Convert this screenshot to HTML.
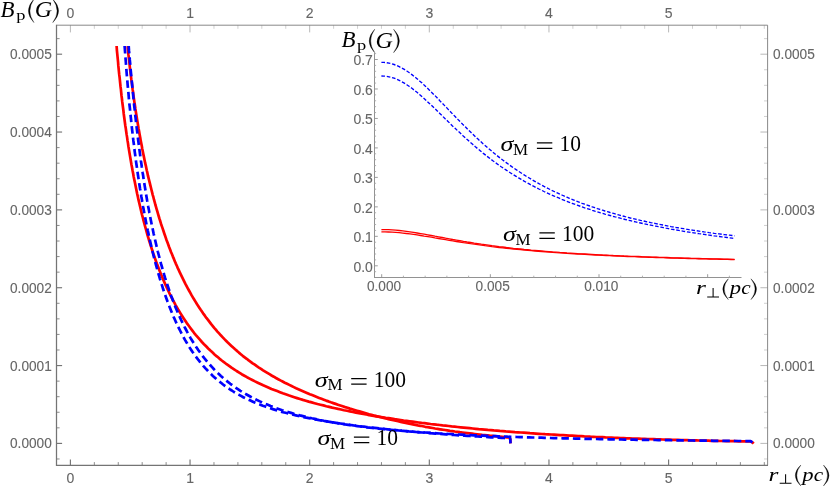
<!DOCTYPE html>
<html><head><meta charset="utf-8"><title>Bp plot</title>
<style>html,body{margin:0;padding:0;background:#fff;}svg{display:block;}.gt{filter:grayscale(1);}text{white-space:pre;}</style>
</head><body>
<svg width="830" height="487" viewBox="0 0 830 487">
<rect width="830" height="487" fill="#fff"/>
<g><line x1="70.40" y1="465.20" x2="70.40" y2="459.60" stroke="#757575" stroke-width="1.15"/><line x1="70.40" y1="25.20" x2="70.40" y2="32.40" stroke="#a6a6a6" stroke-width="0.8"/><line x1="94.33" y1="465.20" x2="94.33" y2="462.10" stroke="#8c8c8c" stroke-width="1.0"/><line x1="94.33" y1="25.20" x2="94.33" y2="28.80" stroke="#c4c4c4" stroke-width="0.8"/><line x1="118.26" y1="465.20" x2="118.26" y2="462.10" stroke="#8c8c8c" stroke-width="1.0"/><line x1="118.26" y1="25.20" x2="118.26" y2="28.80" stroke="#c4c4c4" stroke-width="0.8"/><line x1="142.18" y1="465.20" x2="142.18" y2="462.10" stroke="#8c8c8c" stroke-width="1.0"/><line x1="142.18" y1="25.20" x2="142.18" y2="28.80" stroke="#c4c4c4" stroke-width="0.8"/><line x1="166.11" y1="465.20" x2="166.11" y2="462.10" stroke="#8c8c8c" stroke-width="1.0"/><line x1="166.11" y1="25.20" x2="166.11" y2="28.80" stroke="#c4c4c4" stroke-width="0.8"/><line x1="190.04" y1="465.20" x2="190.04" y2="459.60" stroke="#757575" stroke-width="1.15"/><line x1="190.04" y1="25.20" x2="190.04" y2="32.40" stroke="#a6a6a6" stroke-width="0.8"/><line x1="213.97" y1="465.20" x2="213.97" y2="462.10" stroke="#8c8c8c" stroke-width="1.0"/><line x1="213.97" y1="25.20" x2="213.97" y2="28.80" stroke="#c4c4c4" stroke-width="0.8"/><line x1="237.90" y1="465.20" x2="237.90" y2="462.10" stroke="#8c8c8c" stroke-width="1.0"/><line x1="237.90" y1="25.20" x2="237.90" y2="28.80" stroke="#c4c4c4" stroke-width="0.8"/><line x1="261.82" y1="465.20" x2="261.82" y2="462.10" stroke="#8c8c8c" stroke-width="1.0"/><line x1="261.82" y1="25.20" x2="261.82" y2="28.80" stroke="#c4c4c4" stroke-width="0.8"/><line x1="285.75" y1="465.20" x2="285.75" y2="462.10" stroke="#8c8c8c" stroke-width="1.0"/><line x1="285.75" y1="25.20" x2="285.75" y2="28.80" stroke="#c4c4c4" stroke-width="0.8"/><line x1="309.68" y1="465.20" x2="309.68" y2="459.60" stroke="#757575" stroke-width="1.15"/><line x1="309.68" y1="25.20" x2="309.68" y2="32.40" stroke="#a6a6a6" stroke-width="0.8"/><line x1="333.61" y1="465.20" x2="333.61" y2="462.10" stroke="#8c8c8c" stroke-width="1.0"/><line x1="333.61" y1="25.20" x2="333.61" y2="28.80" stroke="#c4c4c4" stroke-width="0.8"/><line x1="357.54" y1="465.20" x2="357.54" y2="462.10" stroke="#8c8c8c" stroke-width="1.0"/><line x1="357.54" y1="25.20" x2="357.54" y2="28.80" stroke="#c4c4c4" stroke-width="0.8"/><line x1="381.46" y1="465.20" x2="381.46" y2="462.10" stroke="#8c8c8c" stroke-width="1.0"/><line x1="381.46" y1="25.20" x2="381.46" y2="28.80" stroke="#c4c4c4" stroke-width="0.8"/><line x1="405.39" y1="465.20" x2="405.39" y2="462.10" stroke="#8c8c8c" stroke-width="1.0"/><line x1="405.39" y1="25.20" x2="405.39" y2="28.80" stroke="#c4c4c4" stroke-width="0.8"/><line x1="429.32" y1="465.20" x2="429.32" y2="459.60" stroke="#757575" stroke-width="1.15"/><line x1="429.32" y1="25.20" x2="429.32" y2="32.40" stroke="#a6a6a6" stroke-width="0.8"/><line x1="453.25" y1="465.20" x2="453.25" y2="462.10" stroke="#8c8c8c" stroke-width="1.0"/><line x1="453.25" y1="25.20" x2="453.25" y2="28.80" stroke="#c4c4c4" stroke-width="0.8"/><line x1="477.18" y1="465.20" x2="477.18" y2="462.10" stroke="#8c8c8c" stroke-width="1.0"/><line x1="477.18" y1="25.20" x2="477.18" y2="28.80" stroke="#c4c4c4" stroke-width="0.8"/><line x1="501.10" y1="465.20" x2="501.10" y2="462.10" stroke="#8c8c8c" stroke-width="1.0"/><line x1="501.10" y1="25.20" x2="501.10" y2="28.80" stroke="#c4c4c4" stroke-width="0.8"/><line x1="525.03" y1="465.20" x2="525.03" y2="462.10" stroke="#8c8c8c" stroke-width="1.0"/><line x1="525.03" y1="25.20" x2="525.03" y2="28.80" stroke="#c4c4c4" stroke-width="0.8"/><line x1="548.96" y1="465.20" x2="548.96" y2="459.60" stroke="#757575" stroke-width="1.15"/><line x1="548.96" y1="25.20" x2="548.96" y2="32.40" stroke="#a6a6a6" stroke-width="0.8"/><line x1="572.89" y1="465.20" x2="572.89" y2="462.10" stroke="#8c8c8c" stroke-width="1.0"/><line x1="572.89" y1="25.20" x2="572.89" y2="28.80" stroke="#c4c4c4" stroke-width="0.8"/><line x1="596.82" y1="465.20" x2="596.82" y2="462.10" stroke="#8c8c8c" stroke-width="1.0"/><line x1="596.82" y1="25.20" x2="596.82" y2="28.80" stroke="#c4c4c4" stroke-width="0.8"/><line x1="620.74" y1="465.20" x2="620.74" y2="462.10" stroke="#8c8c8c" stroke-width="1.0"/><line x1="620.74" y1="25.20" x2="620.74" y2="28.80" stroke="#c4c4c4" stroke-width="0.8"/><line x1="644.67" y1="465.20" x2="644.67" y2="462.10" stroke="#8c8c8c" stroke-width="1.0"/><line x1="644.67" y1="25.20" x2="644.67" y2="28.80" stroke="#c4c4c4" stroke-width="0.8"/><line x1="668.60" y1="465.20" x2="668.60" y2="459.60" stroke="#757575" stroke-width="1.15"/><line x1="668.60" y1="25.20" x2="668.60" y2="32.40" stroke="#a6a6a6" stroke-width="0.8"/><line x1="692.53" y1="465.20" x2="692.53" y2="462.10" stroke="#8c8c8c" stroke-width="1.0"/><line x1="692.53" y1="25.20" x2="692.53" y2="28.80" stroke="#c4c4c4" stroke-width="0.8"/><line x1="716.46" y1="465.20" x2="716.46" y2="462.10" stroke="#8c8c8c" stroke-width="1.0"/><line x1="716.46" y1="25.20" x2="716.46" y2="28.80" stroke="#c4c4c4" stroke-width="0.8"/><line x1="740.38" y1="465.20" x2="740.38" y2="462.10" stroke="#8c8c8c" stroke-width="1.0"/><line x1="740.38" y1="25.20" x2="740.38" y2="28.80" stroke="#c4c4c4" stroke-width="0.8"/><line x1="764.31" y1="465.20" x2="764.31" y2="462.10" stroke="#8c8c8c" stroke-width="1.0"/><line x1="764.31" y1="25.20" x2="764.31" y2="28.80" stroke="#c4c4c4" stroke-width="0.8"/><line x1="56.50" y1="458.97" x2="59.60" y2="458.97" stroke="#8c8c8c" stroke-width="1.0"/><line x1="767.60" y1="458.97" x2="764.00" y2="458.97" stroke="#c4c4c4" stroke-width="0.8"/><line x1="56.50" y1="443.40" x2="62.10" y2="443.40" stroke="#757575" stroke-width="1.15"/><line x1="767.60" y1="443.40" x2="760.40" y2="443.40" stroke="#a6a6a6" stroke-width="0.8"/><line x1="56.50" y1="427.83" x2="59.60" y2="427.83" stroke="#8c8c8c" stroke-width="1.0"/><line x1="767.60" y1="427.83" x2="764.00" y2="427.83" stroke="#c4c4c4" stroke-width="0.8"/><line x1="56.50" y1="412.26" x2="59.60" y2="412.26" stroke="#8c8c8c" stroke-width="1.0"/><line x1="767.60" y1="412.26" x2="764.00" y2="412.26" stroke="#c4c4c4" stroke-width="0.8"/><line x1="56.50" y1="396.70" x2="59.60" y2="396.70" stroke="#8c8c8c" stroke-width="1.0"/><line x1="767.60" y1="396.70" x2="764.00" y2="396.70" stroke="#c4c4c4" stroke-width="0.8"/><line x1="56.50" y1="381.13" x2="59.60" y2="381.13" stroke="#8c8c8c" stroke-width="1.0"/><line x1="767.60" y1="381.13" x2="764.00" y2="381.13" stroke="#c4c4c4" stroke-width="0.8"/><line x1="56.50" y1="365.56" x2="62.10" y2="365.56" stroke="#757575" stroke-width="1.15"/><line x1="767.60" y1="365.56" x2="760.40" y2="365.56" stroke="#a6a6a6" stroke-width="0.8"/><line x1="56.50" y1="349.99" x2="59.60" y2="349.99" stroke="#8c8c8c" stroke-width="1.0"/><line x1="767.60" y1="349.99" x2="764.00" y2="349.99" stroke="#c4c4c4" stroke-width="0.8"/><line x1="56.50" y1="334.42" x2="59.60" y2="334.42" stroke="#8c8c8c" stroke-width="1.0"/><line x1="767.60" y1="334.42" x2="764.00" y2="334.42" stroke="#c4c4c4" stroke-width="0.8"/><line x1="56.50" y1="318.86" x2="59.60" y2="318.86" stroke="#8c8c8c" stroke-width="1.0"/><line x1="767.60" y1="318.86" x2="764.00" y2="318.86" stroke="#c4c4c4" stroke-width="0.8"/><line x1="56.50" y1="303.29" x2="59.60" y2="303.29" stroke="#8c8c8c" stroke-width="1.0"/><line x1="767.60" y1="303.29" x2="764.00" y2="303.29" stroke="#c4c4c4" stroke-width="0.8"/><line x1="56.50" y1="287.72" x2="62.10" y2="287.72" stroke="#757575" stroke-width="1.15"/><line x1="767.60" y1="287.72" x2="760.40" y2="287.72" stroke="#a6a6a6" stroke-width="0.8"/><line x1="56.50" y1="272.15" x2="59.60" y2="272.15" stroke="#8c8c8c" stroke-width="1.0"/><line x1="767.60" y1="272.15" x2="764.00" y2="272.15" stroke="#c4c4c4" stroke-width="0.8"/><line x1="56.50" y1="256.58" x2="59.60" y2="256.58" stroke="#8c8c8c" stroke-width="1.0"/><line x1="767.60" y1="256.58" x2="764.00" y2="256.58" stroke="#c4c4c4" stroke-width="0.8"/><line x1="56.50" y1="241.02" x2="59.60" y2="241.02" stroke="#8c8c8c" stroke-width="1.0"/><line x1="767.60" y1="241.02" x2="764.00" y2="241.02" stroke="#c4c4c4" stroke-width="0.8"/><line x1="56.50" y1="225.45" x2="59.60" y2="225.45" stroke="#8c8c8c" stroke-width="1.0"/><line x1="767.60" y1="225.45" x2="764.00" y2="225.45" stroke="#c4c4c4" stroke-width="0.8"/><line x1="56.50" y1="209.88" x2="62.10" y2="209.88" stroke="#757575" stroke-width="1.15"/><line x1="767.60" y1="209.88" x2="760.40" y2="209.88" stroke="#a6a6a6" stroke-width="0.8"/><line x1="56.50" y1="194.31" x2="59.60" y2="194.31" stroke="#8c8c8c" stroke-width="1.0"/><line x1="767.60" y1="194.31" x2="764.00" y2="194.31" stroke="#c4c4c4" stroke-width="0.8"/><line x1="56.50" y1="178.74" x2="59.60" y2="178.74" stroke="#8c8c8c" stroke-width="1.0"/><line x1="767.60" y1="178.74" x2="764.00" y2="178.74" stroke="#c4c4c4" stroke-width="0.8"/><line x1="56.50" y1="163.18" x2="59.60" y2="163.18" stroke="#8c8c8c" stroke-width="1.0"/><line x1="767.60" y1="163.18" x2="764.00" y2="163.18" stroke="#c4c4c4" stroke-width="0.8"/><line x1="56.50" y1="147.61" x2="59.60" y2="147.61" stroke="#8c8c8c" stroke-width="1.0"/><line x1="767.60" y1="147.61" x2="764.00" y2="147.61" stroke="#c4c4c4" stroke-width="0.8"/><line x1="56.50" y1="132.04" x2="62.10" y2="132.04" stroke="#757575" stroke-width="1.15"/><line x1="767.60" y1="132.04" x2="760.40" y2="132.04" stroke="#a6a6a6" stroke-width="0.8"/><line x1="56.50" y1="116.47" x2="59.60" y2="116.47" stroke="#8c8c8c" stroke-width="1.0"/><line x1="767.60" y1="116.47" x2="764.00" y2="116.47" stroke="#c4c4c4" stroke-width="0.8"/><line x1="56.50" y1="100.90" x2="59.60" y2="100.90" stroke="#8c8c8c" stroke-width="1.0"/><line x1="767.60" y1="100.90" x2="764.00" y2="100.90" stroke="#c4c4c4" stroke-width="0.8"/><line x1="56.50" y1="85.34" x2="59.60" y2="85.34" stroke="#8c8c8c" stroke-width="1.0"/><line x1="767.60" y1="85.34" x2="764.00" y2="85.34" stroke="#c4c4c4" stroke-width="0.8"/><line x1="56.50" y1="69.77" x2="59.60" y2="69.77" stroke="#8c8c8c" stroke-width="1.0"/><line x1="767.60" y1="69.77" x2="764.00" y2="69.77" stroke="#c4c4c4" stroke-width="0.8"/><line x1="56.50" y1="54.20" x2="62.10" y2="54.20" stroke="#757575" stroke-width="1.15"/><line x1="767.60" y1="54.20" x2="760.40" y2="54.20" stroke="#a6a6a6" stroke-width="0.8"/><line x1="56.50" y1="38.63" x2="59.60" y2="38.63" stroke="#8c8c8c" stroke-width="1.0"/><line x1="767.60" y1="38.63" x2="764.00" y2="38.63" stroke="#c4c4c4" stroke-width="0.8"/></g>
<path d="M56.5,25.2 H767.6 V465.2" fill="none" stroke="#7c7c7c" stroke-width="0.9"/>
<path d="M56.5,24.8 V465.34999999999997 H768.0" fill="none" stroke="#747474" stroke-width="1.25"/>
<g class="gt" font-family="'Liberation Sans', sans-serif">
<text x="70.40" y="483.30" text-anchor="middle" font-size="14" textLength="7.8" lengthAdjust="spacingAndGlyphs" fill="#666666" stroke="#666666" stroke-width="0.12">0</text>
<text x="70.40" y="17.70" text-anchor="middle" font-size="14" textLength="7.8" lengthAdjust="spacingAndGlyphs" fill="#666666" stroke="#666666" stroke-width="0.12">0</text>
<text x="190.04" y="483.30" text-anchor="middle" font-size="14" textLength="7.8" lengthAdjust="spacingAndGlyphs" fill="#666666" stroke="#666666" stroke-width="0.12">1</text>
<text x="190.04" y="17.70" text-anchor="middle" font-size="14" textLength="7.8" lengthAdjust="spacingAndGlyphs" fill="#666666" stroke="#666666" stroke-width="0.12">1</text>
<text x="309.68" y="483.30" text-anchor="middle" font-size="14" textLength="7.8" lengthAdjust="spacingAndGlyphs" fill="#666666" stroke="#666666" stroke-width="0.12">2</text>
<text x="309.68" y="17.70" text-anchor="middle" font-size="14" textLength="7.8" lengthAdjust="spacingAndGlyphs" fill="#666666" stroke="#666666" stroke-width="0.12">2</text>
<text x="429.32" y="483.30" text-anchor="middle" font-size="14" textLength="7.8" lengthAdjust="spacingAndGlyphs" fill="#666666" stroke="#666666" stroke-width="0.12">3</text>
<text x="429.32" y="17.70" text-anchor="middle" font-size="14" textLength="7.8" lengthAdjust="spacingAndGlyphs" fill="#666666" stroke="#666666" stroke-width="0.12">3</text>
<text x="548.96" y="483.30" text-anchor="middle" font-size="14" textLength="7.8" lengthAdjust="spacingAndGlyphs" fill="#666666" stroke="#666666" stroke-width="0.12">4</text>
<text x="548.96" y="17.70" text-anchor="middle" font-size="14" textLength="7.8" lengthAdjust="spacingAndGlyphs" fill="#666666" stroke="#666666" stroke-width="0.12">4</text>
<text x="668.60" y="483.30" text-anchor="middle" font-size="14" textLength="7.8" lengthAdjust="spacingAndGlyphs" fill="#666666" stroke="#666666" stroke-width="0.12">5</text>
<text x="668.60" y="17.70" text-anchor="middle" font-size="14" textLength="7.8" lengthAdjust="spacingAndGlyphs" fill="#666666" stroke="#666666" stroke-width="0.12">5</text>
<text x="51.80" y="448.40" text-anchor="end" font-size="14" textLength="41.8" lengthAdjust="spacingAndGlyphs" fill="#666666" stroke="#666666" stroke-width="0.12">0.0000</text>
<text x="773.00" y="448.40" text-anchor="start" font-size="14" textLength="41.8" lengthAdjust="spacingAndGlyphs" fill="#666666" stroke="#666666" stroke-width="0.12">0.0000</text>
<text x="51.80" y="370.56" text-anchor="end" font-size="14" textLength="41.8" lengthAdjust="spacingAndGlyphs" fill="#666666" stroke="#666666" stroke-width="0.12">0.0001</text>
<text x="773.00" y="370.56" text-anchor="start" font-size="14" textLength="41.8" lengthAdjust="spacingAndGlyphs" fill="#666666" stroke="#666666" stroke-width="0.12">0.0001</text>
<text x="51.80" y="292.72" text-anchor="end" font-size="14" textLength="41.8" lengthAdjust="spacingAndGlyphs" fill="#666666" stroke="#666666" stroke-width="0.12">0.0002</text>
<text x="773.00" y="292.72" text-anchor="start" font-size="14" textLength="41.8" lengthAdjust="spacingAndGlyphs" fill="#666666" stroke="#666666" stroke-width="0.12">0.0002</text>
<text x="51.80" y="214.88" text-anchor="end" font-size="14" textLength="41.8" lengthAdjust="spacingAndGlyphs" fill="#666666" stroke="#666666" stroke-width="0.12">0.0003</text>
<text x="773.00" y="214.88" text-anchor="start" font-size="14" textLength="41.8" lengthAdjust="spacingAndGlyphs" fill="#666666" stroke="#666666" stroke-width="0.12">0.0003</text>
<text x="51.80" y="137.04" text-anchor="end" font-size="14" textLength="41.8" lengthAdjust="spacingAndGlyphs" fill="#666666" stroke="#666666" stroke-width="0.12">0.0004</text>
<text x="51.80" y="59.20" text-anchor="end" font-size="14" textLength="41.8" lengthAdjust="spacingAndGlyphs" fill="#666666" stroke="#666666" stroke-width="0.12">0.0005</text>
<text x="773.00" y="59.20" text-anchor="start" font-size="14" textLength="41.8" lengthAdjust="spacingAndGlyphs" fill="#666666" stroke="#666666" stroke-width="0.12">0.0005</text>
<text x="372.80" y="271.70" text-anchor="end" font-size="14" textLength="19.4" lengthAdjust="spacingAndGlyphs" fill="#666666" stroke="#666666" stroke-width="0.12">0.0</text>
<text x="372.80" y="242.23" text-anchor="end" font-size="14" textLength="19.4" lengthAdjust="spacingAndGlyphs" fill="#666666" stroke="#666666" stroke-width="0.12">0.1</text>
<text x="372.80" y="212.76" text-anchor="end" font-size="14" textLength="19.4" lengthAdjust="spacingAndGlyphs" fill="#666666" stroke="#666666" stroke-width="0.12">0.2</text>
<text x="372.80" y="183.29" text-anchor="end" font-size="14" textLength="19.4" lengthAdjust="spacingAndGlyphs" fill="#666666" stroke="#666666" stroke-width="0.12">0.3</text>
<text x="372.80" y="153.82" text-anchor="end" font-size="14" textLength="19.4" lengthAdjust="spacingAndGlyphs" fill="#666666" stroke="#666666" stroke-width="0.12">0.4</text>
<text x="372.80" y="124.35" text-anchor="end" font-size="14" textLength="19.4" lengthAdjust="spacingAndGlyphs" fill="#666666" stroke="#666666" stroke-width="0.12">0.5</text>
<text x="372.80" y="94.88" text-anchor="end" font-size="14" textLength="19.4" lengthAdjust="spacingAndGlyphs" fill="#666666" stroke="#666666" stroke-width="0.12">0.6</text>
<text x="372.80" y="65.41" text-anchor="end" font-size="14" textLength="19.4" lengthAdjust="spacingAndGlyphs" fill="#666666" stroke="#666666" stroke-width="0.12">0.7</text>
<text x="384.00" y="291.40" text-anchor="middle" font-size="14" textLength="34.2" lengthAdjust="spacingAndGlyphs" fill="#666666" stroke="#666666" stroke-width="0.12">0.000</text>
<text x="492.65" y="291.40" text-anchor="middle" font-size="14" textLength="34.2" lengthAdjust="spacingAndGlyphs" fill="#666666" stroke="#666666" stroke-width="0.12">0.005</text>
<text x="601.30" y="291.40" text-anchor="middle" font-size="14" textLength="34.2" lengthAdjust="spacingAndGlyphs" fill="#666666" stroke="#666666" stroke-width="0.12">0.010</text>
</g>
<g><line x1="374.50" y1="53.00" x2="374.50" y2="278.00" stroke="#929292" stroke-width="1"/><line x1="374.00" y1="277.50" x2="741.50" y2="277.50" stroke="#929292" stroke-width="1"/><line x1="374.50" y1="271.69" x2="376.10" y2="271.69" stroke="#a8a8a8" stroke-width="0.9"/><line x1="374.50" y1="265.80" x2="377.80" y2="265.80" stroke="#929292" stroke-width="0.9"/><line x1="374.50" y1="259.91" x2="376.10" y2="259.91" stroke="#a8a8a8" stroke-width="0.9"/><line x1="374.50" y1="254.01" x2="376.10" y2="254.01" stroke="#a8a8a8" stroke-width="0.9"/><line x1="374.50" y1="248.12" x2="376.10" y2="248.12" stroke="#a8a8a8" stroke-width="0.9"/><line x1="374.50" y1="242.22" x2="376.10" y2="242.22" stroke="#a8a8a8" stroke-width="0.9"/><line x1="374.50" y1="236.33" x2="377.80" y2="236.33" stroke="#929292" stroke-width="0.9"/><line x1="374.50" y1="230.44" x2="376.10" y2="230.44" stroke="#a8a8a8" stroke-width="0.9"/><line x1="374.50" y1="224.54" x2="376.10" y2="224.54" stroke="#a8a8a8" stroke-width="0.9"/><line x1="374.50" y1="218.65" x2="376.10" y2="218.65" stroke="#a8a8a8" stroke-width="0.9"/><line x1="374.50" y1="212.75" x2="376.10" y2="212.75" stroke="#a8a8a8" stroke-width="0.9"/><line x1="374.50" y1="206.86" x2="377.80" y2="206.86" stroke="#929292" stroke-width="0.9"/><line x1="374.50" y1="200.97" x2="376.10" y2="200.97" stroke="#a8a8a8" stroke-width="0.9"/><line x1="374.50" y1="195.07" x2="376.10" y2="195.07" stroke="#a8a8a8" stroke-width="0.9"/><line x1="374.50" y1="189.18" x2="376.10" y2="189.18" stroke="#a8a8a8" stroke-width="0.9"/><line x1="374.50" y1="183.28" x2="376.10" y2="183.28" stroke="#a8a8a8" stroke-width="0.9"/><line x1="374.50" y1="177.39" x2="377.80" y2="177.39" stroke="#929292" stroke-width="0.9"/><line x1="374.50" y1="171.50" x2="376.10" y2="171.50" stroke="#a8a8a8" stroke-width="0.9"/><line x1="374.50" y1="165.60" x2="376.10" y2="165.60" stroke="#a8a8a8" stroke-width="0.9"/><line x1="374.50" y1="159.71" x2="376.10" y2="159.71" stroke="#a8a8a8" stroke-width="0.9"/><line x1="374.50" y1="153.81" x2="376.10" y2="153.81" stroke="#a8a8a8" stroke-width="0.9"/><line x1="374.50" y1="147.92" x2="377.80" y2="147.92" stroke="#929292" stroke-width="0.9"/><line x1="374.50" y1="142.03" x2="376.10" y2="142.03" stroke="#a8a8a8" stroke-width="0.9"/><line x1="374.50" y1="136.13" x2="376.10" y2="136.13" stroke="#a8a8a8" stroke-width="0.9"/><line x1="374.50" y1="130.24" x2="376.10" y2="130.24" stroke="#a8a8a8" stroke-width="0.9"/><line x1="374.50" y1="124.34" x2="376.10" y2="124.34" stroke="#a8a8a8" stroke-width="0.9"/><line x1="374.50" y1="118.45" x2="377.80" y2="118.45" stroke="#929292" stroke-width="0.9"/><line x1="374.50" y1="112.56" x2="376.10" y2="112.56" stroke="#a8a8a8" stroke-width="0.9"/><line x1="374.50" y1="106.66" x2="376.10" y2="106.66" stroke="#a8a8a8" stroke-width="0.9"/><line x1="374.50" y1="100.77" x2="376.10" y2="100.77" stroke="#a8a8a8" stroke-width="0.9"/><line x1="374.50" y1="94.87" x2="376.10" y2="94.87" stroke="#a8a8a8" stroke-width="0.9"/><line x1="374.50" y1="88.98" x2="377.80" y2="88.98" stroke="#929292" stroke-width="0.9"/><line x1="374.50" y1="83.09" x2="376.10" y2="83.09" stroke="#a8a8a8" stroke-width="0.9"/><line x1="374.50" y1="77.19" x2="376.10" y2="77.19" stroke="#a8a8a8" stroke-width="0.9"/><line x1="374.50" y1="71.30" x2="376.10" y2="71.30" stroke="#a8a8a8" stroke-width="0.9"/><line x1="374.50" y1="65.40" x2="376.10" y2="65.40" stroke="#a8a8a8" stroke-width="0.9"/><line x1="374.50" y1="59.51" x2="377.80" y2="59.51" stroke="#929292" stroke-width="0.9"/><line x1="374.50" y1="53.62" x2="376.10" y2="53.62" stroke="#a8a8a8" stroke-width="0.9"/><line x1="381.70" y1="277.50" x2="381.70" y2="274.20" stroke="#929292" stroke-width="0.9"/><line x1="403.43" y1="277.50" x2="403.43" y2="275.70" stroke="#a8a8a8" stroke-width="0.9"/><line x1="425.16" y1="277.50" x2="425.16" y2="275.70" stroke="#a8a8a8" stroke-width="0.9"/><line x1="446.89" y1="277.50" x2="446.89" y2="275.70" stroke="#a8a8a8" stroke-width="0.9"/><line x1="468.62" y1="277.50" x2="468.62" y2="275.70" stroke="#a8a8a8" stroke-width="0.9"/><line x1="490.35" y1="277.50" x2="490.35" y2="274.20" stroke="#929292" stroke-width="0.9"/><line x1="512.08" y1="277.50" x2="512.08" y2="275.70" stroke="#a8a8a8" stroke-width="0.9"/><line x1="533.81" y1="277.50" x2="533.81" y2="275.70" stroke="#a8a8a8" stroke-width="0.9"/><line x1="555.54" y1="277.50" x2="555.54" y2="275.70" stroke="#a8a8a8" stroke-width="0.9"/><line x1="577.27" y1="277.50" x2="577.27" y2="275.70" stroke="#a8a8a8" stroke-width="0.9"/><line x1="599.00" y1="277.50" x2="599.00" y2="274.20" stroke="#929292" stroke-width="0.9"/><line x1="620.73" y1="277.50" x2="620.73" y2="275.70" stroke="#a8a8a8" stroke-width="0.9"/><line x1="642.46" y1="277.50" x2="642.46" y2="275.70" stroke="#a8a8a8" stroke-width="0.9"/><line x1="664.19" y1="277.50" x2="664.19" y2="275.70" stroke="#a8a8a8" stroke-width="0.9"/><line x1="685.92" y1="277.50" x2="685.92" y2="275.70" stroke="#a8a8a8" stroke-width="0.9"/><line x1="707.65" y1="277.50" x2="707.65" y2="274.20" stroke="#929292" stroke-width="0.9"/><line x1="729.38" y1="277.50" x2="729.38" y2="275.70" stroke="#a8a8a8" stroke-width="0.9"/></g>
<defs><clipPath id="pc"><rect x="57" y="46" width="710" height="419"/></clipPath></defs>
<g fill="none" stroke-linejoin="round" clip-path="url(#pc)">
<path d="M116.6,46.0 L116.7,47.3 L116.9,50.3 L117.2,53.3 L117.5,56.3 L117.8,59.4 L118.1,62.4 L118.3,65.4 L118.6,68.4 L118.9,71.4 L119.2,74.4 L119.6,77.4 L119.9,80.4 L120.2,83.4 L120.5,86.4 L120.9,89.4 L121.2,92.5 L121.5,95.5 L121.9,98.5 L122.2,101.5 L122.6,104.5 L123.0,107.5 L123.4,110.5 L123.7,113.5 L124.1,116.5 L124.5,119.5 L124.9,122.5 L125.3,125.5 L125.8,128.5 L126.2,131.5 L126.6,134.4 L127.1,137.4 L127.5,140.4 L128.0,143.4 L128.4,146.4 L128.9,149.4 L129.4,152.4 L129.9,155.4 L130.4,158.3 L130.9,161.3 L131.4,164.3 L132.0,167.3 L132.5,170.3 L133.1,173.2 L133.6,176.2 L134.2,179.2 L134.8,182.1 L135.4,185.1 L136.0,188.1 L136.6,191.0 L137.2,194.0 L137.9,196.9 L138.5,199.9 L139.2,202.8 L139.9,205.8 L140.6,208.7 L141.3,211.7 L142.0,214.6 L142.8,217.5 L143.5,220.5 L144.3,223.4 L145.1,226.3 L145.9,229.2 L146.7,232.2 L147.5,235.1 L148.4,238.0 L149.2,240.9 L150.1,243.7 L151.0,246.6 L152.0,249.5 L152.9,252.4 L153.9,255.2 L154.9,258.1 L155.9,261.0 L156.9,263.8 L158.0,266.6 L159.1,269.5 L160.2,272.3 L161.3,275.1 L162.5,277.9 L163.7,280.7 L164.9,283.4 L166.1,286.2 L167.4,288.9 L168.7,291.7 L170.0,294.4 L171.4,297.1 L172.8,299.8 L174.2,302.4 L175.6,305.1 L177.1,307.7 L178.6,310.3 L180.2,312.9 L181.8,315.5 L183.4,318.0 L185.1,320.6 L186.8,323.1 L188.6,325.5 L190.4,328.0 L192.2,330.4 L194.0,332.8 L195.9,335.1 L197.9,337.4 L199.9,339.7 L201.9,342.0 L204.0,344.2 L206.1,346.3 L208.2,348.5 L210.4,350.6 L212.6,352.6 L214.8,354.7 L217.1,356.6 L219.4,358.6 L221.8,360.5 L224.2,362.3 L226.6,364.2 L229.1,365.9 L231.5,367.7 L234.1,369.3 L236.6,371.0 L239.2,372.6 L241.7,374.2 L244.4,375.7 L247.0,377.2 L249.6,378.6 L252.3,380.0 L255.0,381.4 L257.7,382.7 L260.5,384.0 L263.2,385.3 L266.0,386.5 L268.8,387.7 L271.5,388.9 L274.3,390.0 L277.2,391.1 L280.0,392.2 L282.8,393.3 L285.7,394.3 L288.5,395.3 L291.4,396.2 L294.3,397.2 L297.1,398.1 L300.0,399.0 L302.9,399.9 L305.8,400.7 L308.7,401.6 L311.7,402.4 L314.6,403.2 L317.5,404.0 L320.4,404.7 L323.4,405.4 L326.3,406.2 L329.2,406.9 L332.2,407.6 L335.1,408.2 L338.1,408.9 L341.0,409.5 L344.0,410.2 L347.0,410.8 L349.9,411.4 L352.9,412.0 L355.9,412.6 L358.8,413.1 L361.8,413.7 L364.8,414.2 L367.8,414.8 L370.7,415.3 L373.7,415.8 L376.7,416.3 L379.7,416.8 L382.7,417.3 L385.7,417.8 L388.6,418.2 L391.6,418.7 L394.6,419.2 L397.6,419.6 L400.6,420.0 L403.6,420.5 L406.6,420.9 L409.6,421.3 L412.6,421.7 L415.6,422.1 L418.6,422.5 L421.6,422.9 L424.6,423.2 L427.6,423.6 L430.6,424.0 L433.6,424.3 L436.6,424.7 L439.6,425.0 L442.6,425.4 L445.6,425.7 L448.6,426.0 L451.6,426.4 L454.6,426.7 L457.6,427.0 L460.7,427.3 L463.7,427.6 L466.7,427.9 L469.7,428.2 L472.7,428.5 L475.7,428.8 L478.7,429.1 L481.7,429.3 L484.7,429.6 L487.8,429.9 L490.8,430.1 L493.8,430.4 L496.8,430.6 L499.8,430.9 L502.8,431.1 L505.8,431.4 L508.9,431.6 L511.9,431.8 L514.9,432.1 L517.9,432.3 L520.9,432.5 L523.9,432.7 L527.0,432.9 L530.0,433.2 L533.0,433.4 L536.0,433.6 L539.0,433.8 L542.0,434.0 L545.1,434.2 L548.1,434.3 L551.1,434.5 L554.1,434.7 L557.1,434.9 L560.2,435.1 L563.2,435.2 L566.2,435.4 L569.2,435.6 L572.2,435.7 L575.3,435.9 L578.3,436.1 L581.3,436.2 L584.3,436.4 L587.3,436.5 L590.4,436.7 L593.4,436.8 L596.4,437.0 L599.4,437.1 L602.5,437.2 L605.5,437.4 L608.5,437.5 L611.5,437.6 L614.5,437.8 L617.6,437.9 L620.6,438.0 L623.6,438.1 L626.6,438.3 L629.7,438.4 L632.7,438.5 L635.7,438.6 L638.7,438.7 L641.7,438.8 L644.8,438.9 L647.8,439.0 L650.8,439.1 L653.8,439.2 L656.9,439.3 L659.9,439.4 L662.9,439.5 L665.9,439.6 L669.0,439.7 L672.0,439.8 L675.0,439.9 L678.0,439.9 L681.0,440.0 L684.1,440.1 L687.1,440.2 L690.1,440.3 L693.1,440.3 L696.2,440.4 L699.2,440.5 L702.2,440.6 L705.2,440.6 L708.3,440.7 L711.3,440.8 L714.3,440.8 L717.3,440.9 L720.4,441.0 L723.4,441.0 L726.4,441.1 L729.4,441.1 L732.5,441.2 L735.5,441.2 L738.5,441.3 L741.5,441.4 L744.6,441.4 L747.6,441.5 L750.6,441.5 L752.6,442.4 L753.6,443.6" stroke="#ff0000" stroke-width="2.7"/>
<path d="M127.6,46.0 L127.7,46.9 L127.9,49.4 L128.2,51.9 L128.4,54.4 L128.7,56.9 L129.0,59.4 L129.3,61.8 L129.6,64.3 L129.8,66.8 L130.1,69.3 L130.4,71.8 L130.7,74.3 L131.0,76.8 L131.3,79.2 L131.7,81.7 L132.0,84.2 L132.3,86.7 L132.6,89.2 L133.0,91.6 L133.3,94.1 L133.6,96.6 L134.0,99.1 L134.3,101.6 L134.7,104.0 L135.1,106.5 L135.4,109.0 L135.8,111.5 L136.2,113.9 L136.6,116.4 L137.0,118.9 L137.4,121.4 L137.8,123.8 L138.2,126.3 L138.6,128.8 L139.1,131.2 L139.5,133.7 L139.9,136.1 L140.4,138.6 L140.8,141.1 L141.3,143.5 L141.8,146.0 L142.2,148.4 L142.7,150.9 L143.2,153.4 L143.7,155.8 L144.2,158.3 L144.7,160.7 L145.2,163.2 L145.8,165.6 L146.3,168.1 L146.8,170.5 L147.4,172.9 L147.9,175.4 L148.5,177.8 L149.1,180.3 L149.7,182.7 L150.3,185.1 L150.9,187.5 L151.5,190.0 L152.1,192.4 L152.7,194.8 L153.4,197.2 L154.0,199.7 L154.7,202.1 L155.3,204.5 L156.0,206.9 L156.7,209.3 L157.4,211.7 L158.1,214.1 L158.8,216.5 L159.5,218.9 L160.3,221.3 L161.0,223.7 L161.8,226.1 L162.6,228.4 L163.4,230.8 L164.2,233.2 L165.0,235.5 L165.8,237.9 L166.6,240.3 L167.5,242.6 L168.4,245.0 L169.2,247.3 L170.1,249.6 L171.0,252.0 L172.0,254.3 L172.9,256.6 L173.9,258.9 L174.8,261.2 L175.8,263.6 L176.8,265.8 L177.8,268.1 L178.9,270.4 L179.9,272.7 L181.0,274.9 L182.1,277.2 L183.2,279.4 L184.3,281.7 L185.4,283.9 L186.6,286.1 L187.8,288.3 L189.0,290.5 L190.2,292.7 L191.4,294.9 L192.7,297.1 L194.0,299.2 L195.3,301.4 L196.6,303.5 L197.9,305.6 L199.3,307.7 L200.7,309.8 L202.1,311.8 L203.5,313.9 L205.0,315.9 L206.4,317.9 L208.0,319.9 L209.5,321.9 L211.0,323.9 L212.6,325.8 L214.2,327.8 L215.8,329.7 L217.4,331.6 L219.1,333.4 L220.8,335.3 L222.5,337.1 L224.2,338.9 L226.0,340.7 L227.8,342.5 L229.6,344.2 L231.4,345.9 L233.2,347.6 L235.1,349.3 L237.0,350.9 L238.9,352.6 L240.8,354.2 L242.7,355.8 L244.7,357.3 L246.7,358.8 L248.7,360.4 L250.7,361.8 L252.7,363.3 L254.8,364.7 L256.8,366.2 L258.9,367.6 L261.0,368.9 L263.1,370.3 L265.2,371.6 L267.3,372.9 L269.5,374.2 L271.6,375.5 L273.8,376.7 L276.0,378.0 L278.2,379.2 L280.4,380.4 L282.6,381.5 L284.8,382.7 L287.1,383.8 L289.3,384.9 L291.6,386.0 L293.8,387.1 L296.1,388.2 L298.4,389.2 L300.6,390.2 L302.9,391.2 L305.2,392.2 L307.5,393.2 L309.8,394.2 L312.1,395.1 L314.5,396.1 L316.8,397.0 L319.1,397.9 L321.5,398.8 L323.8,399.7 L326.1,400.6 L328.5,401.4 L330.9,402.3 L333.2,403.1 L335.6,403.9 L337.9,404.7 L340.3,405.5 L342.7,406.3 L345.1,407.1 L347.5,407.8 L349.9,408.6 L352.2,409.3 L354.6,410.0 L357.0,410.7 L359.4,411.4 L361.8,412.1 L364.3,412.8 L366.7,413.5 L369.1,414.2 L371.5,414.8 L373.9,415.5 L376.3,416.1 L378.8,416.7 L381.2,417.3 L383.6,417.9 L386.0,418.5 L388.5,419.1 L390.9,419.7 L393.4,420.2 L395.8,420.8 L398.2,421.3 L400.7,421.9 L403.1,422.4 L405.6,422.9 L408.0,423.4 L410.5,423.9 L412.9,424.4 L415.4,424.9 L417.8,425.4 L420.3,425.8 L422.8,426.3 L425.2,426.8 L427.7,427.2 L430.2,427.6 L432.6,428.0 L435.1,428.5 L437.6,428.9 L440.0,429.3 L442.5,429.7 L445.0,430.0 L447.4,430.4 L449.9,430.8 L452.4,431.1 L454.9,431.5 L457.4,431.8 L459.8,432.2 L462.3,432.5 L464.8,432.8 L467.3,433.1 L469.8,433.4 L472.2,433.7 L474.7,434.0 L477.2,434.3 L479.7,434.6 L482.2,434.9 L484.7,435.1 L487.2,435.4 L489.7,435.7 L492.2,435.9 L494.6,436.1 L497.1,436.4 L499.6,436.6 L502.1,436.8 L504.6,437.1 L507.1,437.3 L509.6,437.5 L510.3,439.5 L510.5,443.4" stroke="#ff0000" stroke-width="2.7"/>
<path d="M124.6,46.0 L124.8,48.5 L125.0,51.1 L125.2,53.8 L125.4,56.4 L125.6,59.1 L125.8,61.7 L126.0,64.4 L126.2,67.0 L126.4,69.7 L126.6,72.3 L126.8,75.0 L127.1,77.6 L127.3,80.3 L127.5,82.9 L127.7,85.5 L128.0,88.2 L128.2,90.8 L128.5,93.5 L128.7,96.1 L128.9,98.8 L129.2,101.4 L129.4,104.1 L129.7,106.7 L130.0,109.3 L130.2,112.0 L130.5,114.6 L130.8,117.3 L131.1,119.9 L131.3,122.6 L131.6,125.2 L131.9,127.8 L132.2,130.5 L132.5,133.1 L132.8,135.8 L133.1,138.4 L133.4,141.0 L133.8,143.7 L134.1,146.3 L134.4,148.9 L134.7,151.6 L135.1,154.2 L135.4,156.9 L135.8,159.5 L136.1,162.1 L136.5,164.7 L136.9,167.4 L137.2,170.0 L137.6,172.6 L138.0,175.3 L138.4,177.9 L138.8,180.5 L139.2,183.1 L139.6,185.8 L140.0,188.4 L140.5,191.0 L140.9,193.6 L141.3,196.3 L141.8,198.9 L142.2,201.5 L142.7,204.1 L143.1,206.7 L143.6,209.3 L144.1,212.0 L144.6,214.6 L145.1,217.2 L145.6,219.8 L146.1,222.4 L146.6,225.0 L147.2,227.6 L147.7,230.2 L148.3,232.8 L148.8,235.4 L149.4,238.0 L150.0,240.6 L150.6,243.2 L151.2,245.8 L151.8,248.3 L152.4,250.9 L153.0,253.5 L153.7,256.1 L154.3,258.7 L155.0,261.2 L155.7,263.8 L156.4,266.4 L157.1,268.9 L157.8,271.5 L158.5,274.0 L159.3,276.6 L160.0,279.1 L160.8,281.7 L161.6,284.2 L162.4,286.7 L163.2,289.3 L164.1,291.8 L164.9,294.3 L165.8,296.8 L166.7,299.3 L167.6,301.8 L168.6,304.3 L169.5,306.8 L170.5,309.2 L171.5,311.7 L172.5,314.2 L173.5,316.6 L174.6,319.0 L175.7,321.5 L176.8,323.9 L177.9,326.3 L179.1,328.7 L180.3,331.0 L181.5,333.4 L182.7,335.7 L184.0,338.1 L185.3,340.4 L186.7,342.7 L188.0,345.0 L189.4,347.2 L190.9,349.4 L192.4,351.7 L193.9,353.8 L195.4,356.0 L197.0,358.1 L198.6,360.2 L200.3,362.3 L202.0,364.4 L203.7,366.4 L205.5,368.4 L207.3,370.3 L209.1,372.2 L211.0,374.1 L212.9,375.9 L214.9,377.7 L216.9,379.5 L218.9,381.2 L221.0,382.8 L223.1,384.5 L225.2,386.1 L227.4,387.6 L229.6,389.1 L231.8,390.5 L234.0,392.0 L236.3,393.3 L238.6,394.6 L241.0,395.9 L243.3,397.2 L245.7,398.4 L248.1,399.5 L250.5,400.6 L252.9,401.7 L255.3,402.8 L257.8,403.8 L260.3,404.7 L262.8,405.7 L265.3,406.6 L267.8,407.5 L270.3,408.3 L272.8,409.1 L275.3,409.9 L277.9,410.7 L280.4,411.4 L283.0,412.2 L285.6,412.8 L288.1,413.5 L290.7,414.2 L293.3,414.8 L295.9,415.4 L298.5,416.0 L301.1,416.6 L303.6,417.1 L306.3,417.7 L308.9,418.2 L311.5,418.7 L314.1,419.2 L316.7,419.7 L319.3,420.2 L321.9,420.6 L324.5,421.1 L327.2,421.5 L329.8,421.9 L332.4,422.3 L335.0,422.8 L337.7,423.2 L340.3,423.5 L342.9,423.9 L345.5,424.3 L348.2,424.6 L350.8,425.0 L353.4,425.4 L356.1,425.7 L358.7,426.0 L361.3,426.4 L364.0,426.7 L366.6,427.0 L369.3,427.3 L371.9,427.6 L374.5,427.9 L377.2,428.2 L379.8,428.5 L382.5,428.8 L385.1,429.0 L387.7,429.3 L390.4,429.6 L393.0,429.8 L395.7,430.1 L398.3,430.4 L401.0,430.6 L403.6,430.9 L406.3,431.1 L408.9,431.4 L411.5,431.6 L414.2,431.8 L416.8,432.1 L419.5,432.3 L422.1,432.5 L424.8,432.7 L427.4,432.9 L430.1,433.2 L432.7,433.4 L435.4,433.6 L438.0,433.8 L440.7,434.0 L443.3,434.2 L446.0,434.4 L448.6,434.6 L451.3,434.8 L453.9,435.0 L456.6,435.1 L459.2,435.3 L461.9,435.5 L464.5,435.7 L467.2,435.8 L469.8,436.0 L472.5,436.2 L475.1,436.4 L477.8,436.5 L480.4,436.7 L483.1,436.8 L485.7,437.0 L488.4,437.1 L491.0,437.3 L493.7,437.4 L496.3,437.6 L499.0,437.7 L501.6,437.9 L504.3,438.0 L506.9,438.1 L509.6,438.3 L510.3,439.0 L510.5,443.4" stroke="#0000ff" stroke-width="2.7" stroke-dasharray="7.5 4"/>
<path d="M128.7,46.0 L128.8,47.7 L129.0,50.7 L129.3,53.8 L129.6,56.8 L129.8,59.9 L130.1,63.0 L130.4,66.0 L130.6,69.1 L130.9,72.2 L131.2,75.2 L131.5,78.3 L131.8,81.4 L132.1,84.4 L132.4,87.5 L132.7,90.5 L133.0,93.6 L133.3,96.7 L133.6,99.7 L133.9,102.8 L134.2,105.8 L134.6,108.9 L134.9,112.0 L135.2,115.0 L135.6,118.1 L135.9,121.1 L136.3,124.2 L136.6,127.2 L137.0,130.3 L137.4,133.4 L137.7,136.4 L138.1,139.5 L138.5,142.5 L138.9,145.6 L139.3,148.6 L139.7,151.7 L140.1,154.7 L140.5,157.8 L140.9,160.8 L141.4,163.9 L141.8,166.9 L142.3,169.9 L142.7,173.0 L143.2,176.0 L143.6,179.1 L144.1,182.1 L144.6,185.1 L145.1,188.2 L145.6,191.2 L146.1,194.3 L146.6,197.3 L147.1,200.3 L147.7,203.3 L148.2,206.4 L148.8,209.4 L149.3,212.4 L149.9,215.4 L150.5,218.5 L151.1,221.5 L151.7,224.5 L152.4,227.5 L153.0,230.5 L153.6,233.5 L154.3,236.5 L155.0,239.5 L155.7,242.5 L156.4,245.5 L157.1,248.5 L157.8,251.5 L158.6,254.5 L159.4,257.5 L160.1,260.4 L160.9,263.4 L161.8,266.4 L162.6,269.3 L163.5,272.3 L164.3,275.2 L165.2,278.2 L166.2,281.1 L167.1,284.0 L168.1,287.0 L169.1,289.9 L170.1,292.8 L171.1,295.7 L172.2,298.6 L173.3,301.4 L174.4,304.3 L175.5,307.2 L176.7,310.0 L177.9,312.8 L179.1,315.6 L180.4,318.4 L181.7,321.2 L183.1,324.0 L184.4,326.7 L185.9,329.5 L187.3,332.2 L188.8,334.9 L190.3,337.6 L191.9,340.2 L193.5,342.8 L195.2,345.4 L196.9,348.0 L198.6,350.5 L200.4,353.0 L202.2,355.5 L204.1,357.9 L206.1,360.3 L208.0,362.7 L210.1,365.0 L212.1,367.2 L214.2,369.5 L216.4,371.7 L218.6,373.8 L220.9,375.9 L223.2,377.9 L225.5,379.9 L227.9,381.9 L230.3,383.8 L232.8,385.6 L235.3,387.4 L237.9,389.1 L240.4,390.8 L243.0,392.4 L245.7,394.0 L248.4,395.5 L251.1,397.0 L253.8,398.4 L256.5,399.8 L259.3,401.1 L262.1,402.4 L264.9,403.6 L267.8,404.8 L270.6,406.0 L273.5,407.1 L276.4,408.2 L279.3,409.2 L282.2,410.2 L285.1,411.1 L288.0,412.0 L291.0,412.9 L293.9,413.8 L296.9,414.6 L299.9,415.4 L302.9,416.1 L305.9,416.9 L308.8,417.6 L311.8,418.3 L314.8,418.9 L317.9,419.6 L320.9,420.2 L323.9,420.8 L326.9,421.3 L329.9,421.9 L333.0,422.4 L336.0,422.9 L339.0,423.4 L342.1,423.9 L345.1,424.4 L348.2,424.8 L351.2,425.3 L354.3,425.7 L357.3,426.1 L360.4,426.5 L363.4,426.9 L366.5,427.3 L369.5,427.6 L372.6,428.0 L375.6,428.3 L378.7,428.6 L381.7,428.9 L384.8,429.2 L387.9,429.5 L390.9,429.8 L394.0,430.1 L397.1,430.4 L400.1,430.7 L403.2,430.9 L406.3,431.2 L409.3,431.4 L412.4,431.6 L415.5,431.9 L418.5,432.1 L421.6,432.3 L424.7,432.5 L427.7,432.7 L430.8,432.9 L433.9,433.1 L436.9,433.3 L440.0,433.5 L443.1,433.7 L446.2,433.9 L449.2,434.0 L452.3,434.2 L455.4,434.4 L458.4,434.5 L461.5,434.7 L464.6,434.9 L467.7,435.0 L470.7,435.1 L473.8,435.3 L476.9,435.4 L480.0,435.6 L483.0,435.7 L486.1,435.8 L489.2,436.0 L492.2,436.1 L495.3,436.2 L498.4,436.3 L501.5,436.4 L504.5,436.5 L507.6,436.7 L510.7,436.8 L513.8,436.9 L516.8,437.0 L519.9,437.1 L523.0,437.2 L526.1,437.3 L529.1,437.4 L532.2,437.5 L535.3,437.5 L538.4,437.6 L541.4,437.7 L544.5,437.8 L547.6,437.9 L550.7,438.0 L553.7,438.1 L556.8,438.1 L559.9,438.2 L563.0,438.3 L566.0,438.4 L569.1,438.4 L572.2,438.5 L575.3,438.6 L578.3,438.7 L581.4,438.7 L584.5,438.8 L587.6,438.9 L590.6,438.9 L593.7,439.0 L596.8,439.0 L599.9,439.1 L603.0,439.2 L606.0,439.2 L609.1,439.3 L612.2,439.3 L615.3,439.4 L618.3,439.4 L621.4,439.5 L624.5,439.6 L627.6,439.6 L630.6,439.7 L633.7,439.7 L636.8,439.8 L639.9,439.8 L642.9,439.9 L646.0,439.9 L649.1,439.9 L652.2,440.0 L655.2,440.0 L658.3,440.1 L661.4,440.1 L664.5,440.2 L667.5,440.2 L670.6,440.2 L673.7,440.3 L676.8,440.3 L679.8,440.4 L682.9,440.4 L686.0,440.4 L689.1,440.5 L692.2,440.5 L695.2,440.6 L698.3,440.6 L701.4,440.6 L704.5,440.7 L707.5,440.7 L710.6,440.7 L713.7,440.8 L716.8,440.8 L719.8,440.8 L722.9,440.9 L726.0,440.9 L729.1,440.9 L732.1,440.9 L735.2,441.0 L738.3,441.0 L741.4,441.0 L744.4,441.1 L747.5,441.1 L750.6,441.1 L752.6,442.4 L753.6,443.6" stroke="#0000ff" stroke-width="2.7" stroke-dasharray="7.5 4"/>
</g><g fill="none" stroke-linejoin="round">
<path d="M381.4,229.6 L385.0,229.6 L388.5,229.7 L392.1,229.9 L395.7,230.2 L399.2,230.5 L402.8,230.9 L406.4,231.3 L409.9,231.8 L413.5,232.4 L417.1,233.0 L420.6,233.6 L424.2,234.2 L427.8,234.8 L431.3,235.5 L434.9,236.2 L438.5,236.8 L442.1,237.5 L445.6,238.2 L449.2,238.8 L452.8,239.5 L456.3,240.1 L459.9,240.7 L463.5,241.4 L467.0,242.0 L470.6,242.5 L474.2,243.1 L477.7,243.6 L481.3,244.2 L484.9,244.7 L488.4,245.2 L492.0,245.7 L495.6,246.1 L499.1,246.6 L502.7,247.0 L506.3,247.5 L509.8,247.9 L513.4,248.3 L517.0,248.6 L520.5,249.0 L524.1,249.4 L527.7,249.7 L531.2,250.1 L534.8,250.4 L538.4,250.7 L541.9,251.0 L545.5,251.3 L549.1,251.6 L552.6,251.9 L556.2,252.1 L559.8,252.4 L563.4,252.6 L566.9,252.9 L570.5,253.1 L574.1,253.3 L577.6,253.6 L581.2,253.8 L584.8,254.0 L588.3,254.2 L591.9,254.4 L595.5,254.6 L599.0,254.8 L602.6,255.0 L606.2,255.1 L609.7,255.3 L613.3,255.5 L616.9,255.6 L620.4,255.8 L624.0,256.0 L627.6,256.1 L631.1,256.3 L634.7,256.4 L638.3,256.5 L641.8,256.7 L645.4,256.8 L649.0,256.9 L652.5,257.1 L656.1,257.2 L659.7,257.3 L663.2,257.4 L666.8,257.5 L670.4,257.7 L673.9,257.8 L677.5,257.9 L681.1,258.0 L684.7,258.1 L688.2,258.2 L691.8,258.3 L695.4,258.4 L698.9,258.5 L702.5,258.6 L706.1,258.7 L709.6,258.8 L713.2,258.8 L716.8,258.9 L720.3,259.0 L723.9,259.1 L727.5,259.2 L731.0,259.3 L734.6,259.3" stroke="#ff0000" stroke-width="1.3"/>
<path d="M381.4,231.9 L385.0,231.9 L388.5,232.0 L392.1,232.2 L395.7,232.4 L399.2,232.7 L402.8,233.1 L406.4,233.5 L409.9,233.9 L413.5,234.4 L417.1,234.9 L420.6,235.5 L424.2,236.1 L427.8,236.6 L431.3,237.2 L434.9,237.9 L438.5,238.5 L442.1,239.1 L445.6,239.7 L449.2,240.3 L452.8,240.9 L456.3,241.5 L459.9,242.0 L463.5,242.6 L467.0,243.1 L470.6,243.7 L474.2,244.2 L477.7,244.7 L481.3,245.2 L484.9,245.7 L488.4,246.1 L492.0,246.6 L495.6,247.0 L499.1,247.5 L502.7,247.9 L506.3,248.3 L509.8,248.6 L513.4,249.0 L517.0,249.4 L520.5,249.7 L524.1,250.1 L527.7,250.4 L531.2,250.7 L534.8,251.0 L538.4,251.3 L541.9,251.6 L545.5,251.9 L549.1,252.1 L552.6,252.4 L556.2,252.7 L559.8,252.9 L563.4,253.1 L566.9,253.4 L570.5,253.6 L574.1,253.8 L577.6,254.0 L581.2,254.2 L584.8,254.4 L588.3,254.6 L591.9,254.8 L595.5,255.0 L599.0,255.2 L602.6,255.4 L606.2,255.5 L609.7,255.7 L613.3,255.9 L616.9,256.0 L620.4,256.2 L624.0,256.3 L627.6,256.5 L631.1,256.6 L634.7,256.7 L638.3,256.9 L641.8,257.0 L645.4,257.1 L649.0,257.3 L652.5,257.4 L656.1,257.5 L659.7,257.6 L663.2,257.7 L666.8,257.9 L670.4,258.0 L673.9,258.1 L677.5,258.2 L681.1,258.3 L684.7,258.4 L688.2,258.5 L691.8,258.6 L695.4,258.7 L698.9,258.8 L702.5,258.9 L706.1,258.9 L709.6,259.0 L713.2,259.1 L716.8,259.2 L720.3,259.3 L723.9,259.4 L727.5,259.4 L731.0,259.5 L734.6,259.6" stroke="#ff0000" stroke-width="1.3"/>
<path d="M381.4,62.3 L383.9,62.4 L386.5,62.7 L389.0,63.1 L391.6,63.7 L394.1,64.5 L396.6,65.5 L399.2,66.7 L401.7,68.0 L404.3,69.4 L406.8,71.0 L409.4,72.7 L411.9,74.6 L414.4,76.6 L417.0,78.7 L419.5,80.9 L422.1,83.1 L424.6,85.5 L427.1,87.9 L429.7,90.4 L432.2,92.9 L434.8,95.4 L437.3,98.0 L439.8,100.7 L442.4,103.3 L444.9,105.9 L447.5,108.6 L450.0,111.2 L452.5,113.9 L455.1,116.5 L457.6,119.1 L460.2,121.7 L462.7,124.3 L465.3,126.8 L467.8,129.4 L470.3,131.8 L472.9,134.3 L475.4,136.7 L478.0,139.1 L480.5,141.4 L483.0,143.7 L485.6,145.9 L488.1,148.2 L490.7,150.3 L493.2,152.4 L495.7,154.5 L498.3,156.6 L500.8,158.6 L503.4,160.5 L505.9,162.4 L508.5,164.3 L511.0,166.1 L513.5,167.9 L516.1,169.6 L518.6,171.3 L521.2,173.0 L523.7,174.6 L526.2,176.2 L528.8,177.8 L531.3,179.3 L533.9,180.8 L536.4,182.2 L538.9,183.7 L541.5,185.0 L544.0,186.4 L546.6,187.7 L549.1,189.0 L551.6,190.3 L554.2,191.5 L556.7,192.7 L559.3,193.9 L561.8,195.0 L564.4,196.1 L566.9,197.2 L569.4,198.3 L572.0,199.3 L574.5,200.4 L577.1,201.4 L579.6,202.3 L582.1,203.3 L584.7,204.2 L587.2,205.1 L589.8,206.0 L592.3,206.9 L594.8,207.7 L597.4,208.6 L599.9,209.4 L602.5,210.2 L605.0,211.0 L607.5,211.7 L610.1,212.5 L612.6,213.2 L615.2,213.9 L617.7,214.6 L620.3,215.3 L622.8,216.0 L625.3,216.7 L627.9,217.3 L630.4,218.0 L633.0,218.6 L635.5,219.2 L638.0,219.8 L640.6,220.4 L643.1,220.9 L645.7,221.5 L648.2,222.0 L650.7,222.6 L653.3,223.1 L655.8,223.6 L658.4,224.1 L660.9,224.6 L663.5,225.1 L666.0,225.6 L668.5,226.1 L671.1,226.6 L673.6,227.0 L676.2,227.5 L678.7,227.9 L681.2,228.3 L683.8,228.7 L686.3,229.2 L688.9,229.6 L691.4,230.0 L693.9,230.4 L696.5,230.7 L699.0,231.1 L701.6,231.5 L704.1,231.9 L706.6,232.2 L709.2,232.6 L711.7,232.9 L714.3,233.3 L716.8,233.6 L719.4,233.9 L721.9,234.3 L724.4,234.6 L727.0,234.9 L729.5,235.2 L732.1,235.5 L734.6,235.8" stroke="#0000ff" stroke-width="1.35" stroke-dasharray="3.6 1.8"/>
<path d="M381.4,76.0 L383.9,76.1 L386.5,76.3 L389.0,76.8 L391.6,77.4 L394.1,78.2 L396.6,79.2 L399.2,80.4 L401.7,81.7 L404.3,83.1 L406.8,84.7 L409.4,86.5 L411.9,88.3 L414.4,90.3 L417.0,92.3 L419.5,94.4 L422.1,96.7 L424.6,98.9 L427.1,101.3 L429.7,103.7 L432.2,106.1 L434.8,108.5 L437.3,111.0 L439.8,113.5 L442.4,116.0 L444.9,118.5 L447.5,120.9 L450.0,123.4 L452.5,125.9 L455.1,128.3 L457.6,130.7 L460.2,133.1 L462.7,135.5 L465.3,137.8 L467.8,140.1 L470.3,142.4 L472.9,144.6 L475.4,146.8 L478.0,148.9 L480.5,151.0 L483.0,153.1 L485.6,155.1 L488.1,157.1 L490.7,159.1 L493.2,161.0 L495.7,162.8 L498.3,164.7 L500.8,166.5 L503.4,168.2 L505.9,169.9 L508.5,171.6 L511.0,173.2 L513.5,174.8 L516.1,176.4 L518.6,177.9 L521.2,179.4 L523.7,180.9 L526.2,182.3 L528.8,183.7 L531.3,185.1 L533.9,186.4 L536.4,187.7 L538.9,189.0 L541.5,190.2 L544.0,191.5 L546.6,192.7 L549.1,193.8 L551.6,195.0 L554.2,196.1 L556.7,197.2 L559.3,198.2 L561.8,199.3 L564.4,200.3 L566.9,201.3 L569.4,202.3 L572.0,203.3 L574.5,204.2 L577.1,205.1 L579.6,206.0 L582.1,206.9 L584.7,207.8 L587.2,208.6 L589.8,209.4 L592.3,210.3 L594.8,211.1 L597.4,211.8 L599.9,212.6 L602.5,213.3 L605.0,214.1 L607.5,214.8 L610.1,215.5 L612.6,216.2 L615.2,216.9 L617.7,217.5 L620.3,218.2 L622.8,218.8 L625.3,219.5 L627.9,220.1 L630.4,220.7 L633.0,221.3 L635.5,221.9 L638.0,222.5 L640.6,223.0 L643.1,223.6 L645.7,224.1 L648.2,224.7 L650.7,225.2 L653.3,225.7 L655.8,226.2 L658.4,226.7 L660.9,227.2 L663.5,227.7 L666.0,228.2 L668.5,228.6 L671.1,229.1 L673.6,229.5 L676.2,230.0 L678.7,230.4 L681.2,230.8 L683.8,231.3 L686.3,231.7 L688.9,232.1 L691.4,232.5 L693.9,232.9 L696.5,233.3 L699.0,233.7 L701.6,234.0 L704.1,234.4 L706.6,234.8 L709.2,235.1 L711.7,235.5 L714.3,235.9 L716.8,236.2 L719.4,236.5 L721.9,236.9 L724.4,237.2 L727.0,237.5 L729.5,237.9 L732.1,238.2 L734.6,238.5" stroke="#0000ff" stroke-width="1.35" stroke-dasharray="3.6 1.8"/>
</g>
<g class="gt" font-family="'Liberation Serif', serif" fill="#000">
<text x="0.60" y="17.10" font-size="22.5" font-style="italic" textLength="14.0" lengthAdjust="spacingAndGlyphs">B</text><text x="16.20" y="20.00" font-size="14.8" font-style="normal" textLength="9.2" lengthAdjust="spacingAndGlyphs">p</text><path d="M33.90,-0.85 Q22.90,10.85 33.90,22.55 Q25.90,10.85 33.90,-0.85 Z" fill="#000" stroke="#000" stroke-width="0.35"/><text x="34.80" y="17.40" font-size="24.0" font-style="italic" textLength="17.4" lengthAdjust="spacingAndGlyphs">G</text><path d="M52.80,-0.85 Q64.40,10.85 52.80,22.55 Q61.40,10.85 52.80,-0.85 Z" fill="#000" stroke="#000" stroke-width="0.35"/>
<text x="341.40" y="47.20" font-size="22.5" font-style="italic" textLength="14.0" lengthAdjust="spacingAndGlyphs">B</text><text x="357.00" y="50.10" font-size="14.8" font-style="normal" textLength="9.2" lengthAdjust="spacingAndGlyphs">p</text><path d="M374.70,29.25 Q363.70,40.95 374.70,52.65 Q366.70,40.95 374.70,29.25 Z" fill="#000" stroke="#000" stroke-width="0.35"/><text x="375.60" y="47.50" font-size="24.0" font-style="italic" textLength="17.4" lengthAdjust="spacingAndGlyphs">G</text><path d="M393.60,29.25 Q405.20,40.95 393.60,52.65 Q402.20,40.95 393.60,29.25 Z" fill="#000" stroke="#000" stroke-width="0.35"/>
<text x="768.40" y="480.60" font-size="19.8" font-style="italic" textLength="9.9" lengthAdjust="spacingAndGlyphs">r</text><path d="M779.7,483.3 h11.8 M785.6,483.3 v-9.0" stroke="#000" stroke-width="1.05" fill="none"/><path d="M800.80,465.10 Q789.80,475.50 800.80,485.90 Q792.70,475.50 800.80,465.10 Z" fill="#000" stroke="#000" stroke-width="0.35"/><text x="802.30" y="480.60" font-size="19.8" font-style="italic" textLength="11.3" lengthAdjust="spacingAndGlyphs">p</text><text x="813.70" y="480.60" font-size="19.8" font-style="italic" textLength="9.4" lengthAdjust="spacingAndGlyphs">c</text><path d="M823.50,465.10 Q834.50,475.50 823.50,485.90 Q831.60,475.50 823.50,465.10 Z" fill="#000" stroke="#000" stroke-width="0.35"/>
<text x="695.90" y="294.30" font-size="19.8" font-style="italic" textLength="9.9" lengthAdjust="spacingAndGlyphs">r</text><path d="M707.2,297.0 h11.8 M713.1,297.0 v-9.0" stroke="#000" stroke-width="1.05" fill="none"/><path d="M728.30,278.80 Q717.30,289.20 728.30,299.60 Q720.20,289.20 728.30,278.80 Z" fill="#000" stroke="#000" stroke-width="0.35"/><text x="729.80" y="294.30" font-size="19.8" font-style="italic" textLength="11.3" lengthAdjust="spacingAndGlyphs">p</text><text x="741.20" y="294.30" font-size="19.8" font-style="italic" textLength="9.4" lengthAdjust="spacingAndGlyphs">c</text><path d="M751.00,278.80 Q762.00,289.20 751.00,299.60 Q759.10,289.20 751.00,278.80 Z" fill="#000" stroke="#000" stroke-width="0.35"/>
<text x="314.80" y="386.80" font-size="21" font-style="italic" textLength="12.9" lengthAdjust="spacingAndGlyphs">σ</text><text x="327.40" y="390.30" font-size="15.8" font-style="normal" textLength="15.1" lengthAdjust="spacingAndGlyphs">M</text><path d="M351.2,378.7 h15.4 M351.2,384.2 h15.4" stroke="#000" stroke-width="1.2" fill="none"/><text x="373.80" y="386.80" font-size="22.5" font-style="normal" textLength="32.25" lengthAdjust="spacingAndGlyphs">100</text>
<text x="317.50" y="445.30" font-size="21" font-style="italic" textLength="12.9" lengthAdjust="spacingAndGlyphs">σ</text><text x="330.10" y="448.80" font-size="15.8" font-style="normal" textLength="15.1" lengthAdjust="spacingAndGlyphs">M</text><path d="M353.9,437.2 h15.4 M353.9,442.7 h15.4" stroke="#000" stroke-width="1.2" fill="none"/><text x="376.50" y="445.30" font-size="22.5" font-style="normal" textLength="21.5" lengthAdjust="spacingAndGlyphs">10</text>
<text x="500.50" y="151.00" font-size="21" font-style="italic" textLength="12.9" lengthAdjust="spacingAndGlyphs">σ</text><text x="513.10" y="154.50" font-size="15.8" font-style="normal" textLength="15.1" lengthAdjust="spacingAndGlyphs">M</text><path d="M536.9,142.9 h15.4 M536.9,148.4 h15.4" stroke="#000" stroke-width="1.2" fill="none"/><text x="559.50" y="151.00" font-size="22.5" font-style="normal" textLength="21.5" lengthAdjust="spacingAndGlyphs">10</text>
<text x="503.00" y="241.00" font-size="21" font-style="italic" textLength="12.9" lengthAdjust="spacingAndGlyphs">σ</text><text x="515.60" y="244.50" font-size="15.8" font-style="normal" textLength="15.1" lengthAdjust="spacingAndGlyphs">M</text><path d="M539.4,232.9 h15.4 M539.4,238.4 h15.4" stroke="#000" stroke-width="1.2" fill="none"/><text x="562.00" y="241.00" font-size="22.5" font-style="normal" textLength="32.25" lengthAdjust="spacingAndGlyphs">100</text>
</g>
</svg>
</body></html>
